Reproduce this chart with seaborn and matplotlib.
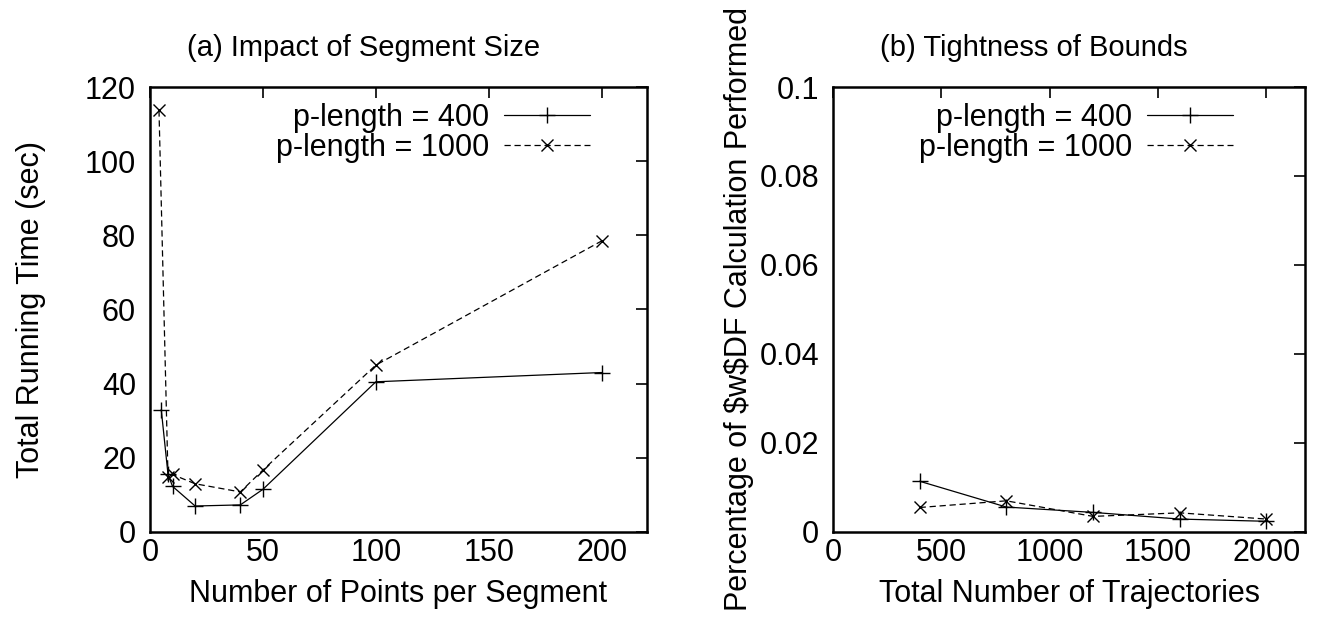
import matplotlib
matplotlib.use("Agg")
import matplotlib.pyplot as plt
import seaborn as sns
import pandas as pd

# (a) running time vs. number of points per segment
seg_x_400 = [5, 8, 10, 20, 40, 50, 100, 200]
seg_y_400 = [33.0, 15.5, 12.3, 7.0, 7.3, 11.5, 40.5, 43.0]
seg_x_1000 = [4, 8, 10, 20, 40, 50, 100, 200]
seg_y_1000 = [113.7, 14.8, 15.5, 13.0, 10.8, 16.7, 45.0, 78.5]

# (b) fraction of distance computations vs. number of trajectories
traj_x = [400, 800, 1200, 1600, 2000]
bound_y_400 = [0.0114, 0.0056, 0.0044, 0.0029, 0.0024]
bound_y_1000 = [0.0055, 0.0070, 0.0035, 0.0043, 0.0029]

labels = ["p-length = 400", "p-length = 1000"]

FS = 22
TITLE_FS = 21

sns.set_style("white")
plt.rcParams.update({
    "font.family": ["Liberation Sans", "DejaVu Sans"],
    "font.size": FS,
    "axes.linewidth": 1.8,
    "axes.edgecolor": "black",
    "xtick.color": "black",
    "ytick.color": "black",
    "text.color": "black",
    "axes.labelcolor": "black",
})

fig = plt.figure(figsize=(13.2, 6.3), dpi=100)
ax1 = fig.add_axes([0.1136, 0.1556, 0.3765, 0.7063])
ax2 = fig.add_axes([0.631, 0.1556, 0.358, 0.7063])


def draw(ax, xa, ya, xb, yb):
    dfa = pd.DataFrame({"x": xa, "y": ya})
    dfb = pd.DataFrame({"x": xb, "y": yb})
    sns.lineplot(data=dfa, x="x", y="y", ax=ax, color="black", lw=0.9,
                 marker="+", markersize=11, markeredgewidth=1.0,
                 markeredgecolor="black", label=labels[0], sort=False)
    sns.lineplot(data=dfb, x="x", y="y", ax=ax, color="black", lw=0.9,
                 marker="x", markersize=9, markeredgewidth=1.0,
                 markeredgecolor="black", dashes=False,
                 linestyle=(0, (5, 3)), label=labels[1], sort=False)
    for s in ax.spines.values():
        s.set_visible(True)
        s.set_linewidth(1.8)
    ax.tick_params(which="both", direction="in", top=True, right=True,
                   length=8, width=1.2, labelsize=FS)
    ax.tick_params(axis="x", pad=4)
    ax.tick_params(axis="y", pad=10)


draw(ax1, seg_x_400, seg_y_400, seg_x_1000, seg_y_1000)
ax1.set_xlim(0, 220)
ax1.set_ylim(0, 120)
ax1.set_xticks([0, 50, 100, 150, 200])
ax1.set_yticks([0, 20, 40, 60, 80, 100, 120])
ax1.set_xlabel("Number of Points per Segment", fontsize=FS, labelpad=8)
ax1.set_ylabel("Total Running Time (sec)", fontsize=FS, labelpad=28)
ax1.set_title("(a) Impact of Segment Size", fontsize=TITLE_FS, pad=22, x=0.43)

draw(ax2, traj_x, bound_y_400, traj_x, bound_y_1000)
ax2.set_xlim(0, 2180)
ax2.set_ylim(0, 0.1)
ax2.set_xticks([0, 500, 1000, 1500, 2000])
ax2.set_yticks([0, 0.02, 0.04, 0.06, 0.08, 0.1])
ax2.set_yticklabels(["0", "0.02", "0.04", "0.06", "0.08", "0.1"])
ax2.set_xlabel("Total Number of Trajectories", fontsize=FS, labelpad=8)
ax2.set_ylabel("Percentage of \\$w\\$DF Calculation Performed", fontsize=FS, labelpad=4)
ax2.set_title("(b) Tightness of Bounds", fontsize=TITLE_FS, pad=22, x=0.425)

for ax, anchor in ((ax1, (0.885, 0.965)), (ax2, (0.846, 0.965))):
    ax.legend(loc="upper right", bbox_to_anchor=anchor, frameon=False,
              markerfirst=False, handlelength=2.8, handletextpad=0.5,
              labelspacing=0.0, fontsize=FS, borderaxespad=0.0,
              borderpad=0.0)

fig.savefig("out.png", dpi=100)
